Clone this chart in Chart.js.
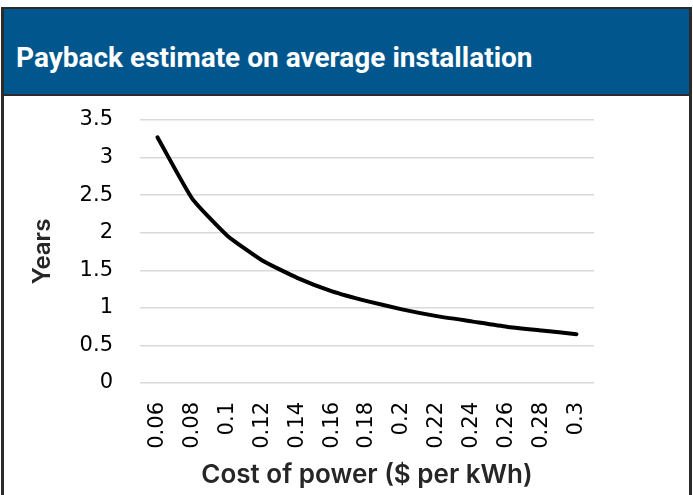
<!DOCTYPE html>
<html>
<head>
<meta charset="utf-8">
<script src="https://cdn.jsdelivr.net/npm/chart.js@4.4.1/dist/chart.umd.min.js"></script>
<style>
    html, body { margin: 0; padding: 0; background: #fff; }
    #frame {
        position: absolute; left: 1px; top: 7px; width: 691px; height: 488px;
        border-left: 3px solid #2b2b2b; border-right: 3px solid #2b2b2b; border-top: 2px solid #2b2b2b;
        box-sizing: border-box; background: #fff;
    }
    #header {
        position: absolute; left: 0; top: 0; right: 0; height: 87px;
        background: #01578d; border-bottom: 2px solid #2b2b2b;
        box-sizing: border-box;
    }
    #header h1 {
        margin: 0; position: absolute; left: 12px; top: 32px;
        font: bold 28px Roboto, sans-serif; color: #fff; letter-spacing: 0;
    }
    #chartBox { position: absolute; left: 0; top: 89px; width: 685px; height: 399px; }
</style>
</head>
<body>
<div id="frame">
    <div id="header"><h1>Payback estimate on average installation</h1></div>
    <div id="chartBox"><canvas id="chart"></canvas></div>
</div>
<script>
    // --- Data ---
    const costLabels = ['0.06', '0.08', '0.1', '0.12', '0.14', '0.16', '0.18', '0.2', '0.22', '0.24', '0.26', '0.28', '0.3'];
    const paybackYears = [3.27, 2.45, 1.96, 1.63, 1.40, 1.22, 1.09, 0.98, 0.89, 0.82, 0.75, 0.70, 0.65];
    const yTicks = [0, 0.5, 1, 1.5, 2, 2.5, 3, 3.5];

    const tickFont = { family: '"DejaVu Sans", sans-serif', size: 21 };
    const axisTitleColor = '#262626';

    const ctx = document.getElementById('chart').getContext('2d');
    new Chart(ctx, {
        type: 'line',
        data: {
            labels: costLabels,
            datasets: [{
                data: paybackYears,
                borderColor: '#000',
                borderWidth: 4,
                pointRadius: 0,
                tension: 0.15,
                borderCapStyle: 'round',
                borderJoinStyle: 'round',
                fill: false
            }]
        },
        options: {
            responsive: true, maintainAspectRatio: false, animation: false,
            layout: { padding: { top: 22, right: 95, bottom: 0, left: 0 } },
            plugins: { legend: { display: false }, tooltip: { enabled: false } },
            scales: {
                x: {
                    offset: true,
                    grid: { display: false, drawTicks: false },
                    border: { display: false },
                    ticks: { color: '#000', font: tickFont, minRotation: 90, maxRotation: 90, padding: 19, autoSkip: false },
                    title: { display: true, text: 'Cost of power ($ per kWh)', color: axisTitleColor,
                             font: { family: 'Inter, sans-serif', size: 26, weight: '600' }, padding: { top: 4, bottom: 6 } },
                    afterFit: (scale) => {
                        scale.height = 114;
                        scale.paddingTop = 0; scale.paddingBottom = 0;
                    }
                },
                y: {
                    min: 0, max: 3.5,
                    afterBuildTicks: (scale) => { scale.ticks = yTicks.map(v => ({ value: v })); },
                    grid: { color: '#d9d9d9', lineWidth: 1.5, drawTicks: false },
                    border: { display: false },
                    ticks: { color: '#000', font: tickFont, padding: 27, callback: (v) => String(v) },
                    title: { display: true, text: 'Years', color: axisTitleColor,
                             font: { family: 'Inter, sans-serif', size: 24, weight: '600' }, padding: { top: 24, bottom: 0 } },
                    afterFit: (scale) => {
                        scale.width = 136;
                        scale.paddingTop = 0; scale.paddingBottom = 0;
                    }
                }
            }
        }
    });
</script>
</body>
</html>
